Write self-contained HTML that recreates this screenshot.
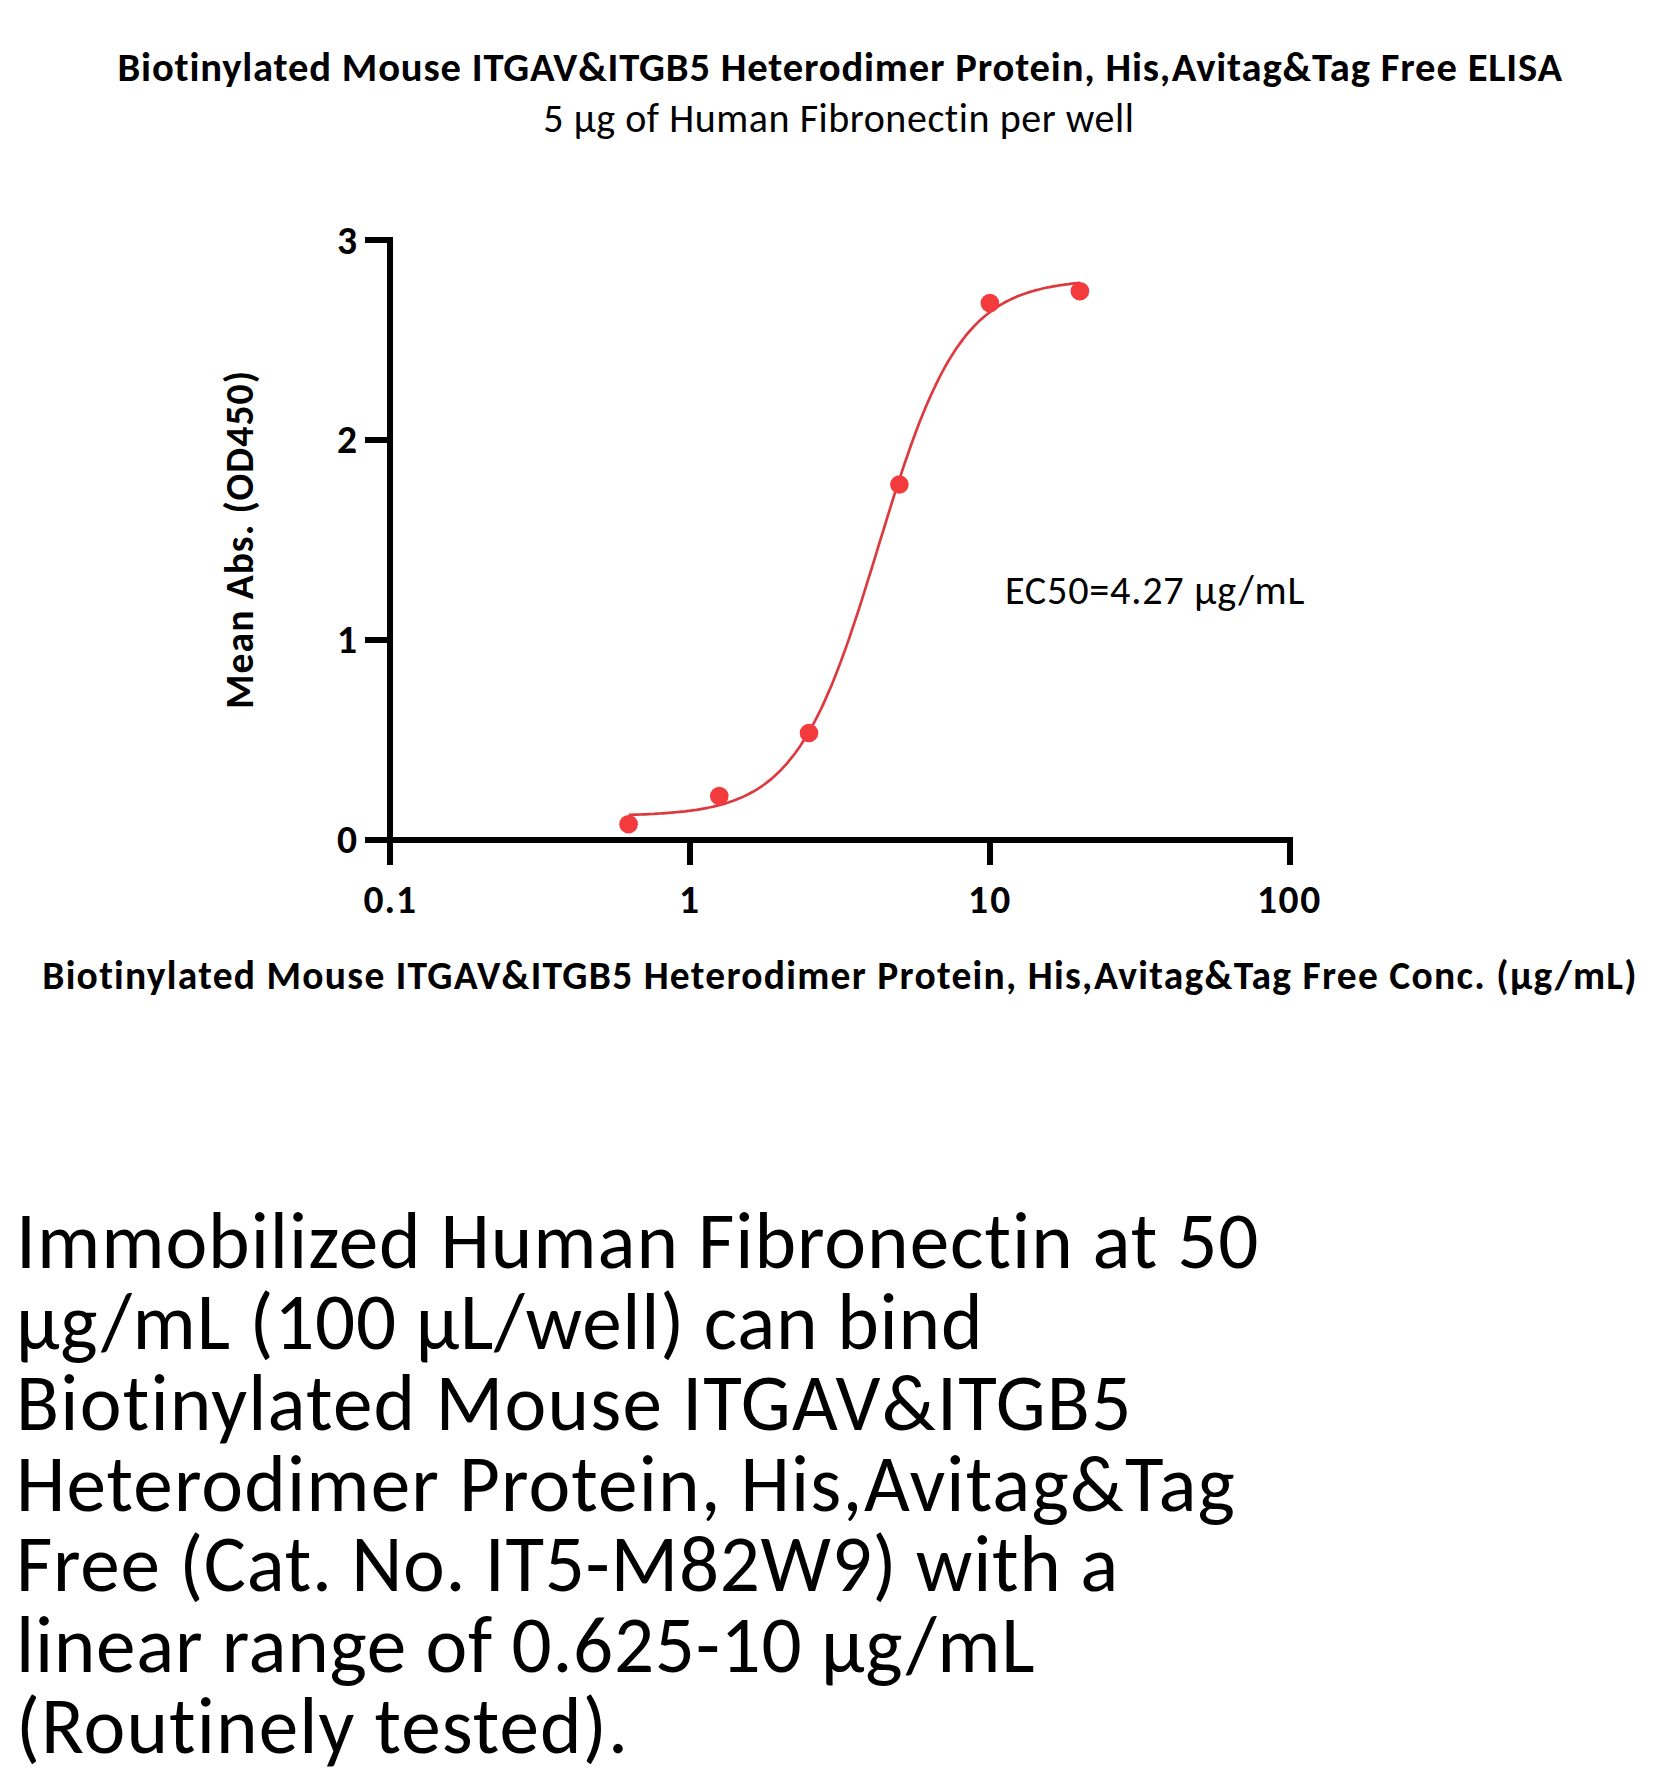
<!DOCTYPE html>
<html><head><meta charset="utf-8"><title>ELISA</title>
<style>
html,body{margin:0;padding:0;background:#fff;}
body{width:1680px;height:1784px;overflow:hidden;position:relative;}
svg{position:absolute;left:0;top:0;display:block;}
text{font-family:Carlito,"Liberation Sans",Arial,sans-serif;fill:#000;font-variant-ligatures:none;font-feature-settings:"liga" 0,"clig" 0,"dlig" 0;white-space:pre;font-size-adjust:0.4775;}
.b{font-weight:bold;font-size-adjust:0.4849;}
</style></head><body>
<svg width="1680" height="1784" viewBox="0 0 1680 1784">
<g fill="#000">
<rect x="387" y="237" width="6" height="628"/>
<rect x="387" y="837" width="906" height="6"/>
<rect x="365" y="237" width="25" height="6"/>
<rect x="365" y="437" width="25" height="6"/>
<rect x="365" y="637" width="25" height="6"/>
<rect x="365" y="837" width="25" height="6"/>
<rect x="687" y="837" width="6" height="28"/>
<rect x="987" y="837" width="6" height="28"/>
<rect x="1287" y="837" width="6" height="28"/>
</g>
<path d="M628.8,814.9 L631.6,814.8 L634.4,814.7 L637.2,814.6 L640.1,814.5 L642.9,814.4 L645.7,814.3 L648.5,814.1 L651.3,814.0 L654.2,813.9 L657.0,813.7 L659.8,813.5 L662.6,813.3 L665.5,813.1 L668.3,812.9 L671.1,812.7 L673.9,812.4 L676.7,812.2 L679.6,811.9 L682.4,811.6 L685.2,811.3 L688.0,810.9 L690.9,810.6 L693.7,810.2 L696.5,809.8 L699.3,809.3 L702.1,808.8 L705.0,808.3 L707.8,807.8 L710.6,807.2 L713.4,806.6 L716.3,805.9 L719.1,805.2 L721.9,804.4 L724.7,803.6 L727.5,802.7 L730.4,801.8 L733.2,800.8 L736.0,799.7 L738.8,798.6 L741.7,797.4 L744.5,796.1 L747.3,794.8 L750.1,793.3 L752.9,791.8 L755.8,790.1 L758.6,788.4 L761.4,786.5 L764.2,784.5 L767.0,782.4 L769.9,780.1 L772.7,777.8 L775.5,775.2 L778.3,772.6 L781.2,769.7 L784.0,766.7 L786.8,763.6 L789.6,760.2 L792.4,756.7 L795.3,753.0 L798.1,749.0 L800.9,744.9 L803.7,740.5 L806.6,736.0 L809.4,731.2 L812.2,726.1 L815.0,720.9 L817.8,715.4 L820.7,709.6 L823.5,703.6 L826.3,697.4 L829.1,690.9 L832.0,684.2 L834.8,677.2 L837.6,670.1 L840.4,662.6 L843.2,655.0 L846.1,647.1 L848.9,639.1 L851.7,630.8 L854.5,622.4 L857.4,613.8 L860.2,605.1 L863.0,596.2 L865.8,587.2 L868.6,578.2 L871.5,569.0 L874.3,559.8 L877.1,550.6 L879.9,541.4 L882.8,532.2 L885.6,523.0 L888.4,513.9 L891.2,504.9 L894.0,495.9 L896.9,487.1 L899.7,478.4 L902.5,469.9 L905.3,461.5 L908.2,453.3 L911.0,445.3 L913.8,437.5 L916.6,430.0 L919.4,422.6 L922.3,415.5 L925.1,408.6 L927.9,402.0 L930.7,395.6 L933.6,389.5 L936.4,383.6 L939.2,377.9 L942.0,372.5 L944.8,367.3 L947.7,362.3 L950.5,357.6 L953.3,353.1 L956.1,348.8 L959.0,344.7 L961.8,340.9 L964.6,337.2 L967.4,333.7 L970.2,330.5 L973.1,327.3 L975.9,324.4 L978.7,321.6 L981.5,319.0 L984.4,316.5 L987.2,314.2 L990.0,312.0 L992.8,309.9 L995.6,308.0 L998.5,306.2 L1001.3,304.4 L1004.1,302.8 L1006.9,301.3 L1009.8,299.9 L1012.6,298.5 L1015.4,297.3 L1018.2,296.1 L1021.0,295.0 L1023.9,294.0 L1026.7,293.0 L1029.5,292.1 L1032.3,291.2 L1035.2,290.4 L1038.0,289.7 L1040.8,289.0 L1043.6,288.3 L1046.4,287.7 L1049.3,287.2 L1052.1,286.6 L1054.9,286.1 L1057.7,285.7 L1060.6,285.2 L1063.4,284.8 L1066.2,284.4 L1069.0,284.1 L1071.8,283.7 L1074.7,283.4 L1077.5,283.1 L1080.3,282.8" fill="none" stroke="#dd3a40" stroke-width="2.7" stroke-linejoin="round"/>
<circle cx="628.6" cy="824.2" r="9.3" fill="#f33a3d"/>
<circle cx="719.3" cy="796.0" r="9.3" fill="#f33a3d"/>
<circle cx="809.0" cy="733.0" r="9.3" fill="#f33a3d"/>
<circle cx="899.4" cy="484.5" r="9.3" fill="#f33a3d"/>
<circle cx="989.9" cy="303.1" r="9.3" fill="#f33a3d"/>
<circle cx="1079.9" cy="291.2" r="9.3" fill="#f33a3d"/>
<text id="title" class="b" x="117.50" y="81.10" font-size="40.6" textLength="1444.60" lengthAdjust="spacing">Biotinylated Mouse ITGAV&amp;ITGB5 Heterodimer Protein, His,Avitag&amp;Tag Free ELISA</text>
<text id="sub" x="543.30" y="131.70" font-size="40" textLength="590.70" lengthAdjust="spacing">5 µg of Human Fibronectin per well</text>
<text id="ylab" class="b" transform="translate(252.90,709.10) rotate(-90)" x="0" y="0" font-size="39.5" textLength="338.20" lengthAdjust="spacing">Mean Abs. (OD450)</text>
<text id="xlab" class="b" x="42.20" y="988.80" font-size="39.5" textLength="1594.40" lengthAdjust="spacing">Biotinylated Mouse ITGAV&amp;ITGB5 Heterodimer Protein, His,Avitag&amp;Tag Free Conc. (µg/mL)</text>
<text id="ec" x="1004.90" y="603.90" font-size="40.2" textLength="299.50" lengthAdjust="spacing">EC50=4.27 µg/mL</text>
<text id="y3" class="b" x="357.00" y="253.60" font-size="39.5" text-anchor="end">3</text>
<text id="y2" class="b" x="357.00" y="453.30" font-size="39.5" text-anchor="end">2</text>
<text id="y1" class="b" x="357.00" y="653.10" font-size="39.5" text-anchor="end">1</text>
<text id="y0" class="b" x="357.00" y="852.90" font-size="39.5" text-anchor="end">0</text>
<text id="x0.1" class="b" x="363.50" y="912.60" font-size="39.5" textLength="52.59" lengthAdjust="spacing">0.1</text>
<text id="x1" class="b" x="679.00" y="912.60" font-size="39.5" textLength="19.63" lengthAdjust="spacing">1</text>
<text id="x10" class="b" x="968.00" y="912.60" font-size="39.5" textLength="42.25" lengthAdjust="spacing">10</text>
<text id="x100" class="b" x="1257.00" y="912.60" font-size="39.5" textLength="63.26" lengthAdjust="spacing">100</text>
<text id="p0" x="16.00" y="1267.90" font-size="79.2" textLength="1242.40" lengthAdjust="spacing">Immobilized Human Fibronectin at 50</text>
<text id="p1" x="16.00" y="1348.78" font-size="79.2" textLength="966.50" lengthAdjust="spacing">µg/mL (100 µL/well) can bind</text>
<text id="p2" x="16.00" y="1429.66" font-size="79.2" textLength="1115.30" lengthAdjust="spacing">Biotinylated Mouse ITGAV&amp;ITGB5</text>
<text id="p3" x="16.00" y="1510.54" font-size="79.2" textLength="1218.80" lengthAdjust="spacing">Heterodimer Protein, His,Avitag&amp;Tag</text>
<text id="p4" x="16.00" y="1591.42" font-size="79.2" textLength="1102.10" lengthAdjust="spacing">Free (Cat. No. IT5-M82W9) with a</text>
<text id="p5" x="16.00" y="1672.30" font-size="79.2" textLength="1018.60" lengthAdjust="spacing">linear range of 0.625-10 µg/mL</text>
<text id="p6" x="16.00" y="1753.18" font-size="79.2" textLength="611.90" lengthAdjust="spacing">(Routinely tested).</text>
</svg>
</body></html>
